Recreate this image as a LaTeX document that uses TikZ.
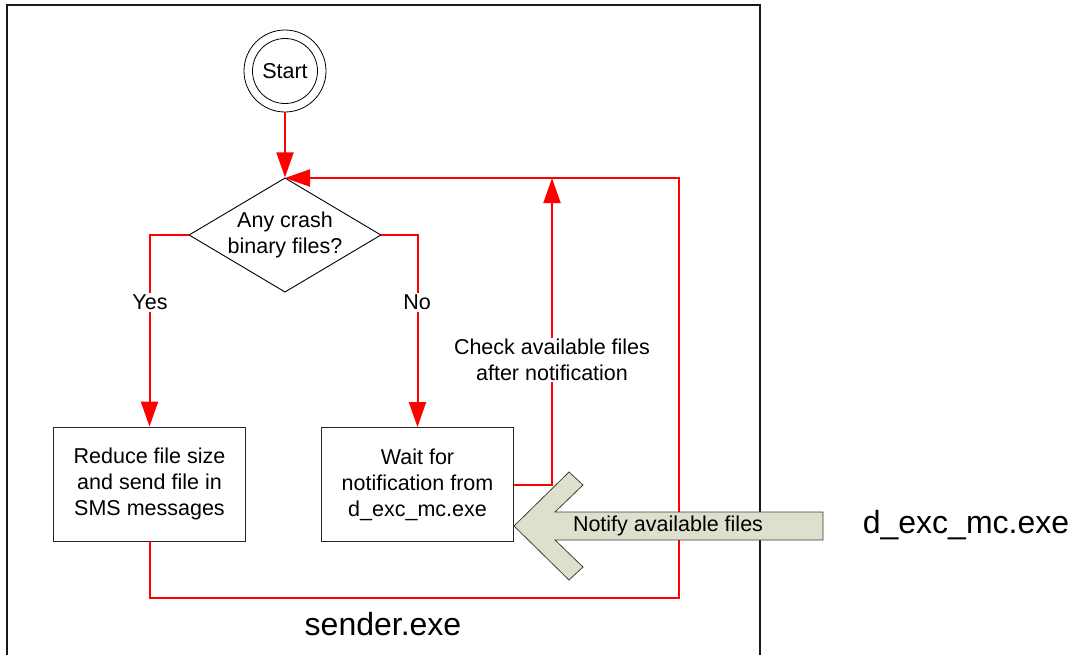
\documentclass[tikz,border=0pt]{standalone}
\usepackage{fontspec}
\setmainfont{Liberation Sans}
\usetikzlibrary{shapes.geometric,arrows.meta}
\definecolor{flowred}{RGB}{255,0,0}
\definecolor{notifyfill}{RGB}{221,224,205}
\begin{document}
\begin{tikzpicture}[x=1pt,y=-1pt,
  txt/.style={font=\fontsize{21.5}{26}\selectfont, align=center},
  bigtxt/.style={font=\fontsize{32}{38}\selectfont},
  procbox/.style={txt, draw=black!85, line width=0.9pt, fill=white,
    minimum width=192pt, minimum height=114pt, inner sep=0pt},
  decide/.style={txt, diamond, draw=black, line width=0.9pt, fill=white,
    minimum width=192pt, minimum height=114pt, inner sep=0pt, shape aspect=1.68},
  flow/.style={draw=flowred, line width=2pt},
  flowarrow/.style={flow, -{Triangle[length=25pt,width=17pt]}},
  edgelabel/.style={txt, fill=white, inner sep=2pt}]

\useasboundingbox (0,0) rectangle (1073,654);

% process frame of sender.exe (runs past the lower edge)
\draw[line width=2pt, black!90] (7,670) -- (7,5) -- (760,5) -- (760,670);

% start terminal
\node[circle, draw, line width=0.8pt, minimum size=82pt, inner sep=0pt] (start) at (285,71) {};
\node[circle, draw, line width=0.8pt, minimum size=65pt, inner sep=0pt, txt] (startin) at (285,71) {Start};

% decision and process boxes
\node[decide] (dia) at (285,235) {Any crash\\binary files?};
\node[procbox] (reduce) at (149.5,484) {Reduce file size\\and send file in\\SMS messages};
\node[procbox] (wait) at (417.5,484.5) {Wait for\\notification from\\d\_exc\_mc.exe};

% loop corners
\coordinate (chk) at (552,178);
\coordinate (lb) at (679,598);
\coordinate (lt) at (679,178);

% connectors
\draw[flowarrow] (startin.south |- start.south) -- (dia.north);
\draw[flowarrow] (dia.west) -| (reduce.north);
\draw[flowarrow] (dia.east) -| (wait.north);
\draw[flowarrow] (wait.east) -| (chk);
\draw[flowarrow] (reduce.south) |- (lb) -- (lt) -- (lt -| dia.north);

% branch labels
\node[edgelabel] (yes) at (150,302) {Yes};
\node[edgelabel] (no) at (417,302) {No};
\node[txt, fill=white, inner sep=1pt] (chklbl) at (552,360) {Check available files\\after notification};

% notification block arrow
\draw[draw=black!75, line width=0.8pt, fill=notifyfill]
  (514,526) -- (569,472) -- (583,485) -- (555,512) -- (823,512)
  -- (823,540) -- (555,540) -- (583,567) -- (569,580) -- cycle;
\node[txt] (notify) at (668,526) {Notify available files};

% process names
\node[bigtxt] (sender) at (383,624) {sender.exe};
\node[bigtxt] (dexc) at (966,525) {d\_exc\_mc.exe};
\end{tikzpicture}
\end{document}
